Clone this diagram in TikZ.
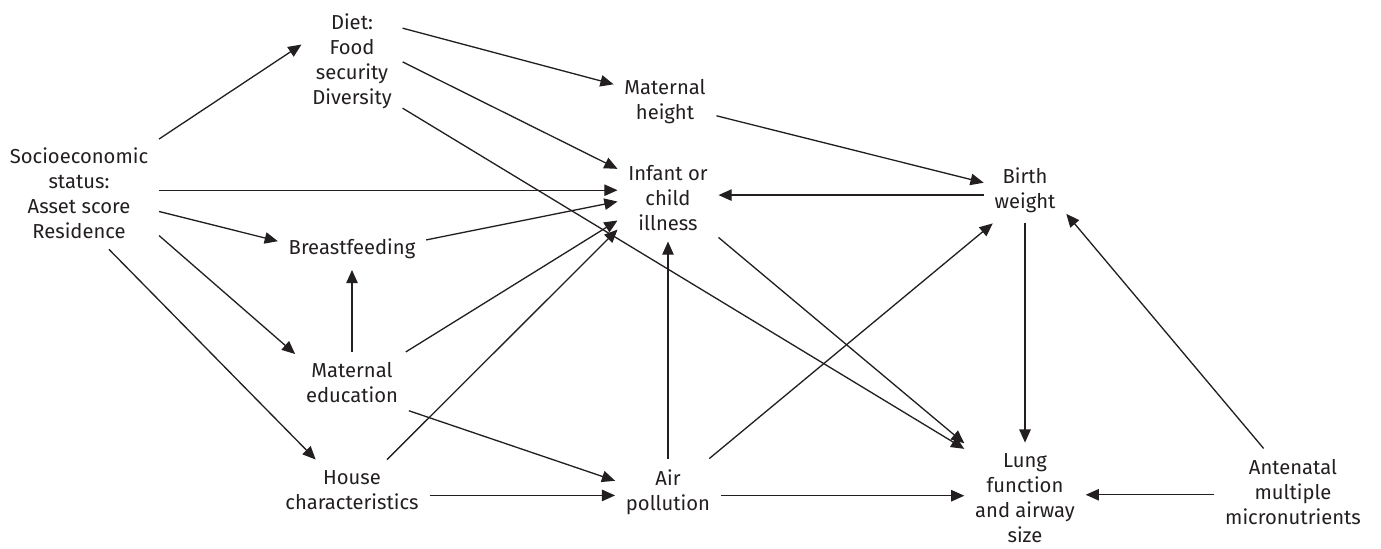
\documentclass[tikz,border=0pt]{standalone}
\usepackage{fontspec}
\setmainfont{Fira Sans}
\usetikzlibrary{arrows.meta}
\definecolor{ink}{RGB}{35,31,32}

\begin{document}
\begin{tikzpicture}[x=0.02cm, y=-0.02cm,
  var/.style={align=center, inner sep=6pt, text=ink, font=\fontsize{11.5}{14.2}\selectfont},
  arr/.style={draw=ink, line width=0.75pt, -{Triangle[length=7.5pt, width=6.5pt]}}]
  \useasboundingbox (0,0) rectangle (1381,548);
  \node[var] (ses) at (79,193) {Socioeconomic\\status:\\Asset score\\Residence};
  \node[var] (diet) at (352,61) {Diet:\\Food\\security\\Diversity};
  \node[var] (mheight) at (665,102) {Maternal\\height};
  \node[var] (infant) at (668,198) {Infant or\\child\\illness};
  \node[var] (birth) at (1025,190) {Birth\\weight};
  \node[var] (breast) at (352,249) {Breastfeeding};
  \node[var] (meduc) at (352,383) {Maternal\\education};
  \node[var] (house) at (352,490) {House\\characteristics};
  \node[var] (air) at (668,492) {Air\\pollution};
  \node[var] (lung) at (1025,498) {Lung\\function\\and airway\\size};
  \node[var] (ante) at (1293,492) {Antenatal\\multiple\\micronutrients};

  \draw[arr] (ses.34) -- (diet.162);
  \draw[arr] (ses.2) -- (ses.2 -| infant.west);
  \draw[arr] (ses.-13) -- (breast.174);
  \draw[arr] (ses.-28) -- (meduc.153);
  \draw[arr] (ses.-62) -- (house.140);
  \draw[arr] (diet.33) -- (mheight.161);
  \draw[arr] (diet.-1) -- (infant.150);
  \draw[arr] (diet.-43) -- (lung.141);
  \draw[arr] (breast.7) -- (infant.184);
  \draw[arr] (meduc) -- (breast);
  \draw[arr] (meduc.30) -- (infant.204);
  \draw[arr] (meduc.-26) -- (air.168);
  \draw[arr] (house.41) -- (infant.212);
  \draw[arr] (house.-4) -- (house.-4 -| air.west);
  \draw[arr] (air) -- (infant);
  \draw[arr] (air.39) -- (birth.226);
  \draw[arr] (air.-4) -- (air.-4 -| lung.west);
  \draw[arr] (mheight.-15) -- (birth.170);
  \draw[arr] (birth.187) -- (birth.187 -| infant.east);
  \draw[arr] (infant.-38) -- (lung.138);
  \draw[arr] (birth) -- (lung);
  \draw[arr] (ante.124) -- (birth.-30);
  \draw[arr] (ante.182) -- (ante.182 -| lung.east);
\end{tikzpicture}
\end{document}
